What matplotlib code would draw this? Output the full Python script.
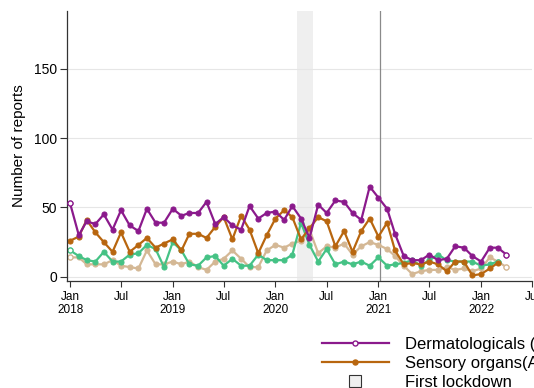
import matplotlib
matplotlib.use("Agg")
import matplotlib.pyplot as plt
from matplotlib.lines import Line2D
import pandas as pd

# monthly report counts, first series point = Jan 2018
derm = [53, 30, 40, 38, 45, 34, 48, 37, 33, 49, 39, 39,
        49, 44, 46, 46, 54, 38, 43, 37, 34, 51, 42, 46,
        47, 41, 51, 42, 28, 52, 46, 55, 54, 46, 41, 65,
        57, 49, 31, 15, 12, 12, 16, 12, 13, 22, 21, 15,
        11, 21, 21, 16]
sensory = [26, 29, 41, 32, 25, 18, 32, 18, 23, 28, 21, 24,
           27, 19, 31, 31, 28, 36, 43, 27, 44, 34, 17, 30,
           42, 48, 43, 27, 35, 43, 40, 22, 33, 18, 33, 42,
           29, 39, 19, 9, 10, 9, 11, 9, 4, 11, 11, 1,
           2, 6, 10]
green_series = [19, 15, 12, 11, 18, 11, 11, 16, 17, 23, 20, 7,
                25, 19, 9, 8, 14, 15, 8, 13, 8, 8, 16, 12,
                12, 12, 16, 39, 23, 11, 20, 9, 11, 9, 11, 8,
                14, 8, 9, 10, 12, 8, 12, 16, 12, 11, 11, 11,
                8, 9, 11]
tan_series = [14, 14, 9, 9, 9, 12, 8, 7, 6, 19, 9, 9,
              11, 9, 11, 7, 5, 11, 13, 19, 13, 7, 7, 19,
              23, 21, 24, 26, 34, 17, 22, 21, 24, 16, 22, 25,
              23, 20, 15, 8, 2, 4, 5, 5, 7, 5, 6, 4,
              6, 14, 11, 7]

start = "2018-01-01"
lockdown = ("2020-03-16", "2020-05-13")
marker_date = "2021-01-05"
tick_dates = pd.date_range("2018-01-01", "2022-07-01", freq="6MS")
tick_labels = [f"Jan\n{d.year}" if d.month == 1 else "Jul" for d in tick_dates]
y_ticks = [0, 50, 100, 150]

PURPLE = "#8b1a8c"
ORANGE = "#b8660f"
GREEN = "#45c285"
TAN = "#d4b895"

plt.rcParams.update({
    "font.family": ["Liberation Sans", "DejaVu Sans"],
    "font.size": 10,
})

fig = plt.figure(figsize=(5.34, 3.88), dpi=100)
ax = fig.add_axes([0.1249, 0.2758, 0.8714, 0.6958])


def series(vals, color, hollow_ends=True, z=3):
    x = pd.date_range(start, periods=len(vals), freq="MS")
    ax.plot(x, vals, color=color, lw=1.6, marker="o", ms=3.6,
            mfc=color, mec=color, mew=0.8, zorder=z)
    if hollow_ends:
        ax.plot([x[0], x[-1]], [vals[0], vals[-1]], ls="none", marker="o",
                ms=3.6, mfc="white", mec=color, mew=0.9, zorder=z + 0.1)


ax.axvspan(pd.Timestamp(lockdown[0]), pd.Timestamp(lockdown[1]),
           color="#efefef", lw=0, zorder=0.5)
ax.axvline(pd.Timestamp(marker_date), color="#8a8a8a", lw=0.9, zorder=1)

series(tan_series, TAN, z=2.0)
series(green_series, GREEN, z=2.2)
series(sensory, ORANGE, hollow_ends=False, z=2.4)
series(derm, PURPLE, z=2.6)

ax.set_xlim(pd.Timestamp("2017-12-20"), pd.Timestamp("2022-07-01"))
ax.set_ylim(-3, 191.5)
ax.set_xticks(tick_dates)
ax.set_xticklabels(tick_labels, fontsize=8.5, linespacing=1.15)
ax.set_yticks(y_ticks)
ax.set_yticklabels([str(v) for v in y_ticks], fontsize=10)
ax.set_ylabel("Number of reports", fontsize=11, labelpad=6)
ax.grid(axis="y", color="#e6e6e6", lw=0.8)
ax.set_axisbelow(True)
for s in ("top", "right"):
    ax.spines[s].set_visible(False)
for s in ("left", "bottom"):
    ax.spines[s].set_color("#333333")
    ax.spines[s].set_linewidth(0.9)
ax.tick_params(axis="y", direction="out", length=5, width=0.8, color="#333333", pad=2)
ax.tick_params(axis="x", direction="out", length=4, width=0.8, color="#333333", pad=3)

handles = [
    Line2D([], [], color=PURPLE, lw=1.6, marker="o", ms=3.6, mfc="white", mec=PURPLE),
    Line2D([], [], color=ORANGE, lw=1.6, marker="o", ms=3.6),
    Line2D([], [], ls="none", marker="s", ms=9, mfc="#efefef", mec="#333333", mew=0.8),
    Line2D([], [], color=GREEN, lw=1.6, marker="o", ms=3.6),
    Line2D([], [], color=TAN, lw=1.6, marker="o", ms=3.6),
]
labels = [
    "Dermatologicals (ATC D)",
    "Sensory organs(ATC S)",
    "First lockdown",
    "Other group",
    "Other group",
]
fig.legend(handles, labels, loc="upper left", bbox_to_anchor=(0.603, 0.131),
           frameon=False, fontsize=12, handlelength=4.0, handletextpad=0.95,
           labelspacing=0.23, borderpad=0, borderaxespad=0)

fig.savefig("out.png", dpi=100)
